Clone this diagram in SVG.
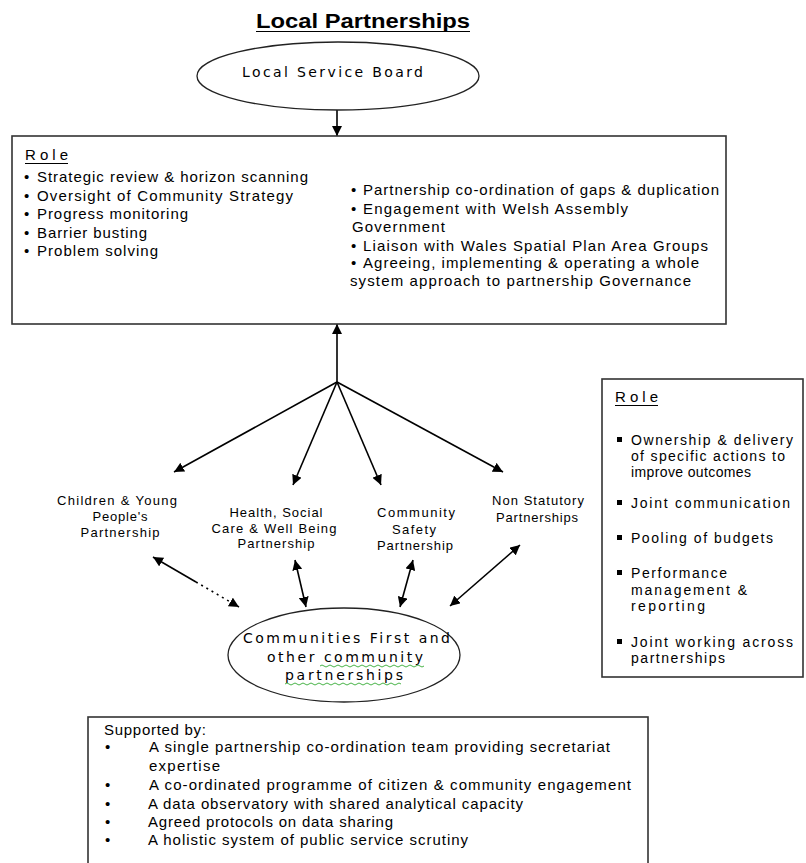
<svg xmlns="http://www.w3.org/2000/svg" width="806" height="863" viewBox="0 0 806 863">
<defs>
<style>
.t{font-family:"Liberation Sans",Arial,sans-serif;font-size:15px;fill:#000}
.r{font-size:14px}
.lbl{font-family:"Liberation Sans",Arial,sans-serif;font-size:13px;fill:#000;text-anchor:middle}
.ell{font-family:"DejaVu Sans",Verdana,sans-serif;font-size:14px;fill:#000}
.title{font-family:"Liberation Sans",Arial,sans-serif;font-size:20px;font-weight:bold;fill:#000}
.box{fill:#fff;stroke:#333;stroke-width:1.6}
.oval{fill:#fff;stroke:#222;stroke-width:1.3}
.ln{stroke:#000;stroke-width:1.6;fill:none}
.ul{stroke:#000;stroke-width:1.2}
.sq{fill:none;stroke:#3a3;stroke-width:0.9}
</style>
<marker id="ah" viewBox="0 0 10 10" refX="10" refY="5" markerWidth="10" markerHeight="10" markerUnits="userSpaceOnUse" orient="auto-start-reverse">
<path d="M0,0 L10,5 L0,10 z" fill="#000"/>
</marker>
</defs>
<rect width="806" height="863" fill="#fff"/>

<g id="title">
<text class="title" x="256" y="28" textLength="214" lengthAdjust="spacingAndGlyphs">Local Partnerships</text>
<line class="ul" x1="256" y1="31.5" x2="470" y2="31.5" stroke-width="1.6"/>
</g>

<g id="connectors">
<line class="ln" x1="337" y1="110" x2="337" y2="136" marker-end="url(#ah)"/>
<line class="ln" x1="337" y1="382" x2="337" y2="324" marker-end="url(#ah)"/>
<line class="ln" x1="337" y1="382" x2="174" y2="472" marker-end="url(#ah)"/>
<line class="ln" x1="337" y1="382" x2="293" y2="485" marker-end="url(#ah)"/>
<line class="ln" x1="337" y1="382" x2="381" y2="485" marker-end="url(#ah)"/>
<line class="ln" x1="337" y1="382" x2="503" y2="472" marker-end="url(#ah)"/>
<line class="ln" x1="153" y1="557" x2="196" y2="582" marker-start="url(#ah)"/>
<line class="ln" x1="196" y1="582" x2="239" y2="607" stroke-dasharray="2,4" marker-end="url(#ah)"/>
<line class="ln" x1="295" y1="560" x2="306" y2="607" marker-start="url(#ah)" marker-end="url(#ah)"/>
<line class="ln" x1="413" y1="560" x2="400" y2="607" marker-start="url(#ah)" marker-end="url(#ah)"/>
<line class="ln" x1="520" y1="545" x2="450" y2="606" stroke-width="2" marker-start="url(#ah)" marker-end="url(#ah)"/>
</g>

<g id="local-service-board">
<ellipse class="oval" cx="338" cy="76" rx="141" ry="34"/>
<text class="ell" x="242" y="77" font-size="15" textLength="181" lengthAdjust="spacing">Local Service Board</text>
</g>

<g id="lsb-role">
<rect class="box" x="12" y="136" width="714" height="188"/>
<text class="t" x="25" y="160" textLength="43" lengthAdjust="spacing">Role</text>
<line class="ul" x1="25" y1="163.5" x2="68" y2="163.5"/>
<text class="t" x="24" y="182">•</text>
<text class="t" x="37" y="182" textLength="271" lengthAdjust="spacing">Strategic review &amp; horizon scanning</text>
<text class="t" x="24" y="201">•</text>
<text class="t" x="37" y="201" textLength="256" lengthAdjust="spacing">Oversight  of Community Strategy</text>
<text class="t" x="24" y="219">•</text>
<text class="t" x="37" y="219" textLength="151" lengthAdjust="spacing">Progress monitoring</text>
<text class="t" x="24" y="238">•</text>
<text class="t" x="37" y="238" textLength="110" lengthAdjust="spacing">Barrier busting</text>
<text class="t" x="24" y="256">•</text>
<text class="t" x="37" y="256" textLength="121" lengthAdjust="spacing">Problem solving</text>

<text class="t" x="351" y="195">•</text>
<text class="t" x="363" y="195" textLength="356" lengthAdjust="spacing">Partnership co-ordination of gaps &amp; duplication</text>
<text class="t" x="351" y="214">•</text>
<text class="t" x="363" y="214" textLength="265" lengthAdjust="spacing">Engagement with Welsh Assembly</text>
<text class="t" x="352" y="232" textLength="93" lengthAdjust="spacing">Government</text>
<text class="t" x="351" y="251">•</text>
<text class="t" x="363" y="251" textLength="345" lengthAdjust="spacing">Liaison with Wales Spatial Plan Area Groups</text>
<text class="t" x="351" y="268">•</text>
<text class="t" x="363" y="268" textLength="336" lengthAdjust="spacing">Agreeing, implementing &amp; operating a whole</text>
<text class="t" x="350" y="286" textLength="341" lengthAdjust="spacing">system approach to partnership Governance</text>
</g>

<g id="children-partnership">
<text class="lbl" x="117" y="505" textLength="120" lengthAdjust="spacing">Children &amp; Young</text>
<text class="lbl" x="120" y="521" textLength="55" lengthAdjust="spacing">People's</text>
<text class="lbl" x="120" y="537" textLength="79" lengthAdjust="spacing">Partnership</text>
</g>

<g id="health-partnership">
<text class="lbl" x="276" y="517" textLength="93" lengthAdjust="spacing">Health, Social</text>
<text class="lbl" x="274" y="533" textLength="125" lengthAdjust="spacing">Care &amp; Well Being</text>
<text class="lbl" x="276" y="548" textLength="77" lengthAdjust="spacing">Partnership</text>
</g>

<g id="community-safety-partnership">
<text class="lbl" x="416" y="517" textLength="78" lengthAdjust="spacing">Community</text>
<text class="lbl" x="414" y="534" textLength="44" lengthAdjust="spacing">Safety</text>
<text class="lbl" x="415" y="550" textLength="76" lengthAdjust="spacing">Partnership</text>
</g>

<g id="non-statutory-partnerships">
<text class="lbl" x="538" y="505" textLength="92" lengthAdjust="spacing">Non Statutory</text>
<text class="lbl" x="537" y="522" textLength="82" lengthAdjust="spacing">Partnerships</text>
</g>

<g id="partnership-role">
<rect class="box" x="602" y="379" width="201" height="298"/>
<text class="t" x="615" y="402" textLength="43" lengthAdjust="spacing">Role</text>
<line class="ul" x1="615" y1="405.5" x2="658" y2="405.5"/>
<rect x="617" y="437" width="5" height="5"/>
<text class="t r" x="631" y="445" textLength="162" lengthAdjust="spacing">Ownership &amp; delivery</text>
<text class="t r" x="631" y="461" textLength="154" lengthAdjust="spacing">of specific actions to</text>
<text class="t r" x="631" y="477" textLength="120" lengthAdjust="spacing">improve outcomes</text>
<rect x="617" y="500" width="5" height="5"/>
<text class="t r" x="631" y="508" textLength="159" lengthAdjust="spacing">Joint communication</text>
<rect x="617" y="535" width="5" height="5"/>
<text class="t r" x="631" y="543" textLength="142" lengthAdjust="spacing">Pooling of budgets</text>
<rect x="617" y="570" width="5" height="5"/>
<text class="t r" x="631" y="578" textLength="96" lengthAdjust="spacing">Performance</text>
<text class="t r" x="631" y="595" textLength="116" lengthAdjust="spacing">management &amp;</text>
<text class="t r" x="631" y="611" textLength="74" lengthAdjust="spacing">reporting</text>
<rect x="617" y="639" width="5" height="5"/>
<text class="t r" x="631" y="647" textLength="162" lengthAdjust="spacing">Joint working across</text>
<text class="t r" x="631" y="663" textLength="94" lengthAdjust="spacing">partnerships</text>
</g>

<g id="communities-first">
<ellipse class="oval" cx="344" cy="655" rx="116" ry="47"/>
<text class="ell" x="243" y="643" textLength="207" lengthAdjust="spacing">Communities First and</text>
<text class="ell" x="267" y="662" textLength="156" lengthAdjust="spacing">other community</text>
<text class="ell" x="285" y="680" textLength="118" lengthAdjust="spacing">partnerships</text>
<path class="sq" d="M320,666 q2,-2 4,0 t4,0 t4,0 t4,0 t4,0 t4,0 t4,0 t4,0 t4,0 t4,0 t4,0 t4,0 t4,0 t4,0 t4,0 t4,0 t4,0 t4,0 t4,0 t4,0 t4,0 t4,0 t4,0 t4,0 t4,0 t4,0"/>
<path class="sq" d="M285,684 q2,-2 4,0 t4,0 t4,0 t4,0 t4,0 t4,0 t4,0 t4,0 t4,0 t4,0 t4,0 t4,0 t4,0 t4,0 t4,0 t4,0 t4,0 t4,0 t4,0 t4,0 t4,0 t4,0 t4,0 t4,0 t4,0 t4,0 t4,0 t4,0 t4,0"/>
</g>

<g id="supported-by">
<rect class="box" x="88" y="717" width="560" height="170"/>
<text class="t" x="104" y="735" textLength="102" lengthAdjust="spacing">Supported by:</text>
<text class="t" x="105" y="752" font-size="12">•</text>
<text class="t" x="149" y="752" textLength="461" lengthAdjust="spacing">A single partnership co-ordination team providing secretariat</text>
<text class="t" x="149" y="771" textLength="71" lengthAdjust="spacing">expertise</text>
<text class="t" x="105" y="790" font-size="12">•</text>
<text class="t" x="149" y="790" textLength="482" lengthAdjust="spacing">A co-ordinated programme of citizen &amp; community engagement</text>
<text class="t" x="105" y="809" font-size="12">•</text>
<text class="t" x="148" y="809" textLength="375" lengthAdjust="spacing">A data observatory with shared analytical capacity</text>
<text class="t" x="105" y="827" font-size="12">•</text>
<text class="t" x="148" y="827" textLength="245" lengthAdjust="spacing">Agreed protocols on data sharing</text>
<text class="t" x="105" y="845" font-size="12">•</text>
<text class="t" x="148" y="845" textLength="320" lengthAdjust="spacing">A holistic system of public service scrutiny</text>
</g>
</svg>
